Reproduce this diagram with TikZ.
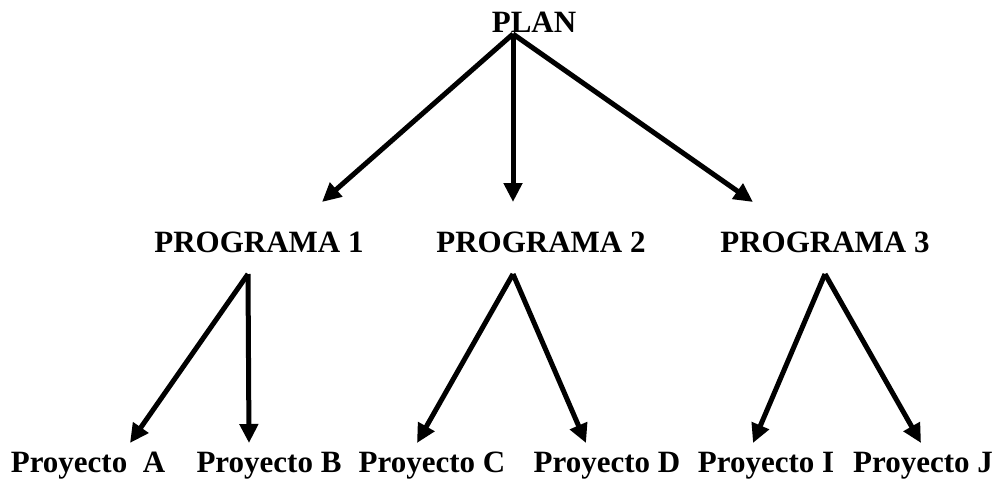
\documentclass[tikz,border=0pt]{standalone}
\usepackage{fontspec}
\setmainfont{Liberation Serif}
\usetikzlibrary{arrows.meta}
\begin{document}
\begin{tikzpicture}[x=1pt,y=-1pt,
  lbl/.style={anchor=base,inner sep=0pt,font=\bfseries\fontsize{31}{36}\selectfont},
  arr/.style={line width=5pt,-{Triangle[length=19pt,width=18pt]}}]
\useasboundingbox (0,0) rectangle (1004,483);
\node[lbl] (plan) at (534,32) {PLAN};
\node[lbl] (pg1) at (259,252) {PROGRAMA 1};
\node[lbl] (pg2) at (541,252) {PROGRAMA 2};
\node[lbl] (pg3) at (825,252) {PROGRAMA 3};
\node[lbl] (pa) at (88,472) {Proyecto\ \ A};
\node[lbl] (pb) at (269,472) {Proyecto B};
\node[lbl] (pc) at (432,472) {Proyecto C};
\node[lbl] (pd) at (607,472) {Proyecto D};
\node[lbl] (pi) at (766,472) {Proyecto I};
\node[lbl] (pj) at (923,472) {Proyecto J};
% connector endpoints
\coordinate (plan-o) at (513,34);
\coordinate (pg1-i) at (322,202);
\coordinate (pg2-i) at (513,202);
\coordinate (pg3-i) at (753,202);
\coordinate (pg1-o) at (248,274);
\coordinate (pg2-o) at (513,274);
\coordinate (pg3-o) at (825,274);
\coordinate (pa-i) at (130,443);
\coordinate (pb-i) at (249,443);
\coordinate (pc-i) at (417,443);
\coordinate (pd-i) at (586,443);
\coordinate (pi-i) at (753,443);
\coordinate (pj-i) at (921,443);
\draw[arr] (plan-o) -- (pg1-i);
\draw[arr] (plan-o) -- (pg2-i);
\draw[arr] (plan-o) -- (pg3-i);
\draw[arr] (pg1-o) -- (pa-i);
\draw[arr] (pg1-o) -- (pb-i);
\draw[arr] (pg2-o) -- (pc-i);
\draw[arr] (pg2-o) -- (pd-i);
\draw[arr] (pg3-o) -- (pi-i);
\draw[arr] (pg3-o) -- (pj-i);
\end{tikzpicture}
\end{document}
